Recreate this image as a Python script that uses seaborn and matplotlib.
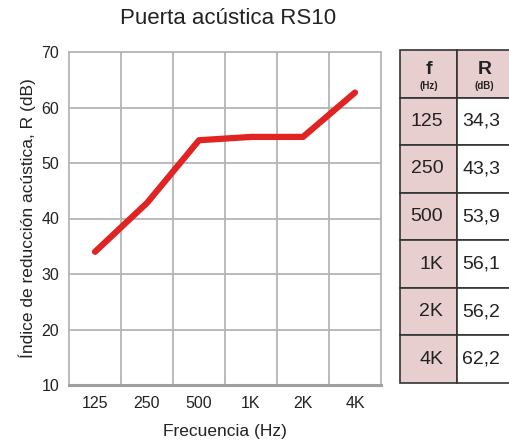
import matplotlib
matplotlib.use("Agg")
import matplotlib.pyplot as plt
import seaborn as sns
import pandas as pd

# datos
frecuencias = ["125", "250", "500", "1K", "2K", "4K"]
r_curva = [34.0, 42.8, 54.1, 54.7, 54.7, 62.7]
# valores de la tabla
tabla_r = ["34,3", "43,3", "53,9", "56,1", "56,2", "62,2"]
y_ticks = [10, 20, 30, 40, 50, 60, 70]

sns.set_theme(style="white")
plt.rcParams['font.family'] = ['Liberation Sans', 'DejaVu Sans']

df = pd.DataFrame({"f": frecuencias, "R": r_curva})

fig = plt.figure(figsize=(5.1, 4.41), dpi=100)
ax = fig.add_axes([69 / 510, 1 - 385 / 441, 312 / 510, 333 / 441])

sns.lineplot(data=df, x="f", y="R", ax=ax, sort=False, color="#e02424",
             linewidth=4.5, solid_capstyle="round", solid_joinstyle="round")

ax.set_xlim(-0.5, len(frecuencias) - 0.5)
ax.set_ylim(10, 70)
ax.set_yticks(y_ticks)
ax.set_xticks(range(len(frecuencias)))
ax.set_xticklabels(frecuencias)
for xg in [i + 0.5 for i in range(len(frecuencias) - 1)]:
    ax.axvline(xg, color="#b4b4b4", lw=1.3, zorder=0)
for yg in y_ticks[1:-1]:
    ax.axhline(yg, color="#b4b4b4", lw=1.3, zorder=0)
for side in ["top", "right", "left"]:
    ax.spines[side].set_color("#b4b4b4")
    ax.spines[side].set_linewidth(1.3)
ax.spines["bottom"].set_color("#a0a0a0")
ax.spines["bottom"].set_linewidth(2.2)
ax.tick_params(length=0, labelsize=11.5, labelcolor="#222222")
ax.tick_params(axis="x", pad=8)
ax.tick_params(axis="y", pad=7)
ax.set_xlabel("Frecuencia (Hz)", fontsize=12.5, color="#222222", labelpad=9)
ax.set_ylabel("Índice de reducción acústica, R (dB)", fontsize=12.5,
              color="#222222", labelpad=4)
fig.text(228 / 510, 1 - 19 / 441, "Puerta acústica RS10", ha="center",
         va="center", fontsize=16, color="#222222")

# tabla
tax = fig.add_axes([400 / 510, 1 - 383 / 441, 112 / 510, 333 / 441])
tax.axis("off")
rosa = "#e8cfcf"
celdas = [["", ""]] + [[f, r] for f, r in zip(frecuencias, tabla_r)]
colores = [[rosa, rosa]] + [[rosa, "white"] for _ in frecuencias]
tb = tax.table(cellText=celdas, cellColours=colores, bbox=[0, 0, 1, 1],
               colWidths=[57, 55], cellLoc="center")
tb.auto_set_font_size(False)
for (i, j), c in tb.get_celld().items():
    c.set_edgecolor("#333333")
    c.set_linewidth(1.2)
    c.get_text().set_fontsize(14)
    c.get_text().set_color("#222222")
    if i > 0 and j == 0:
        c.get_text().set_ha("right")
        c.PAD = 0.24
    if i > 0 and j == 1:
        c.get_text().set_ha("left")
        c.PAD = 0.10
nrows = len(celdas)
cw0 = 57 / 112
for xc, big, small in [(cw0 / 2, "f", "(Hz)"), (cw0 + (1 - cw0) / 2, "R", "(dB)")]:
    tax.text(xc, 1 - 0.4 / nrows, big, ha="center", va="center",
             fontsize=14, fontweight="bold", color="#222222")
    tax.text(xc, 1 - 0.75 / nrows, small, ha="center", va="center",
             fontsize=7, fontweight="bold", color="#222222")

fig.savefig("out.png", dpi=100)
